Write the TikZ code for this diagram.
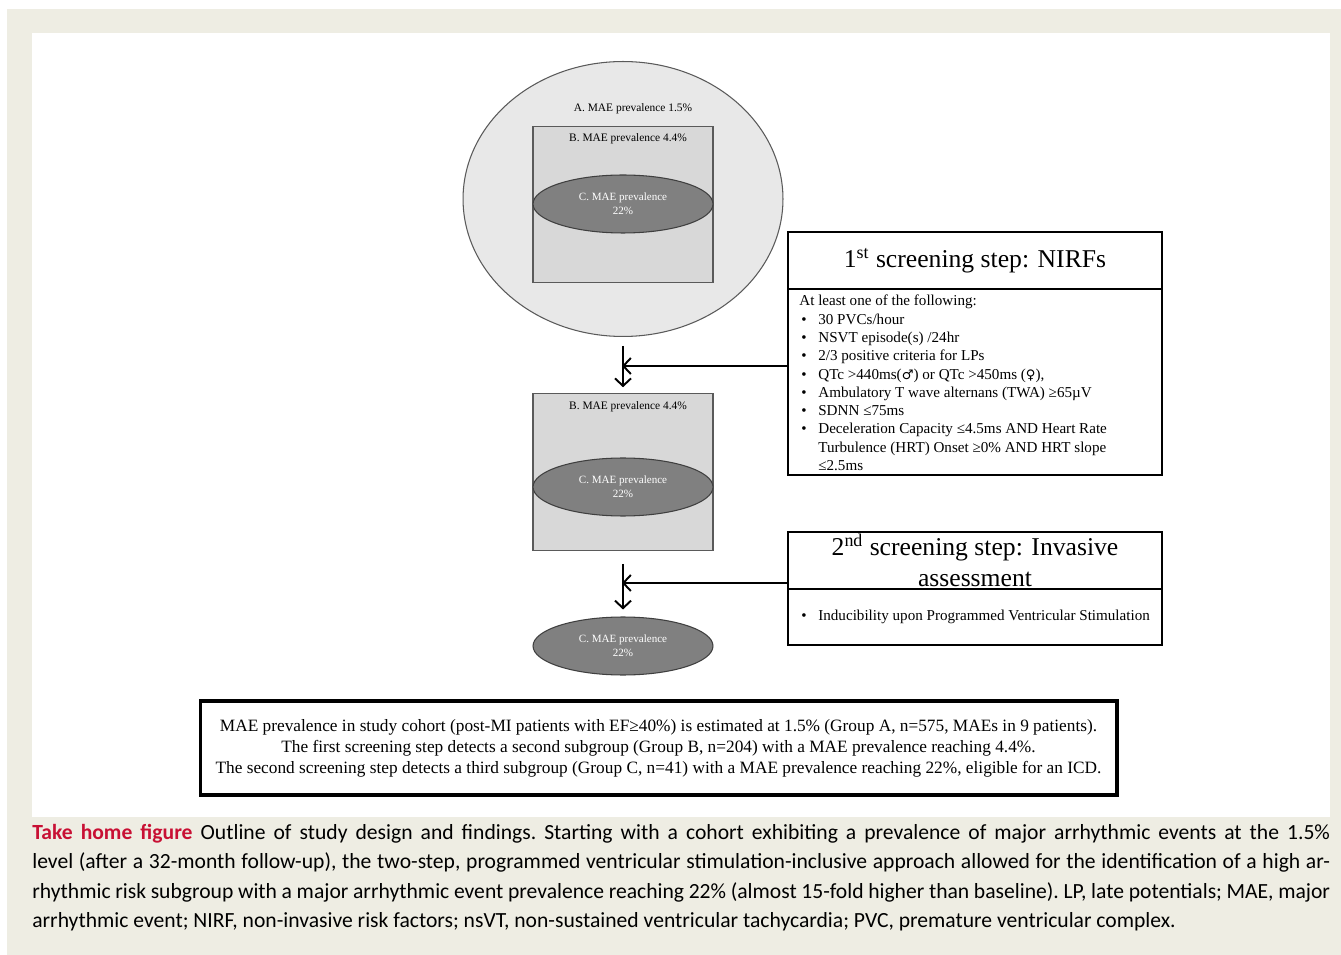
\documentclass[tikz,border=0pt]{standalone}
\usepackage{fontspec}
\setmainfont{Liberation Serif}
\newfontfamily\capfont{Carlito}
\newfontfamily\symfont{DejaVu Sans}
\usepackage{xcolor}
\usetikzlibrary{arrows.meta, positioning, shapes.geometric}

\definecolor{pagebeige}{RGB}{238,237,227}
\definecolor{cohortgray}{RGB}{232,232,232}
\definecolor{subgray}{RGB}{216,216,216}
\definecolor{highgray}{RGB}{128,128,128}
\definecolor{edgegray}{RGB}{90,90,90}
\definecolor{homered}{RGB}{200,16,52}

\newcommand{\bul}{\makebox[3.8mm][l]{\hspace{0.4mm}\textbullet}}
\newcommand{\ind}{\hspace*{3.8mm}}
\newcommand{\sexsym}[1]{{\symfont\fontsize{7.5}{9}\selectfont #1}}

\begin{document}
\begin{tikzpicture}[x=0.02cm, y=-0.02cm, >={Straight Barb[length=1.5mm,width=3.2mm]},
  lbl/.style={inner sep=0pt, font=\fontsize{6.5}{7.5}\selectfont},
  frame/.style={draw, line width=1.6pt, inner sep=0pt, outer sep=0pt, minimum width=7.48cm},
  groupB/.style={draw=edgegray, line width=0.6pt, fill=subgray, minimum width=3.6cm, minimum height=3.13cm, inner sep=0pt},
  groupC/.style={ellipse, draw=edgegray!70!black, line width=0.6pt, fill=highgray, minimum width=3.6cm, minimum height=1.16cm, inner sep=0pt, text=white, align=center, font=\fontsize{6.3}{8}\selectfont},
  link/.style={->, line width=1.1pt}]
  \useasboundingbox (0,0) rectangle (1341,955);
  % page and panel
  \fill[pagebeige] (7,9) rectangle (1341,955);
  \fill[white] (32,33) rectangle (1330,817);

  % cohort A with nested groups
  \node[ellipse, draw=edgegray, line width=0.6pt, fill=cohortgray, minimum width=6.4cm, minimum height=5.5cm, inner sep=0pt] (cohort) at (623,199) {};
  \node[lbl] (labelA) at (633,109) {A. MAE prevalence 1.5\%};
  \foreach \name/\y in {bTop/204.5, bMid/472} {
    \node[groupB] (\name) at (623,\y) {};
  }
  \node[lbl] (labelBtop) at (628,139) {B. MAE prevalence 4.4\%};
  \node[lbl] (labelBmid) at (628,407) {B. MAE prevalence 4.4\%};
  \foreach \name/\y in {cTop/204, cMid/487, cLow/646} {
    \node[groupC] (\name) at (623,\y) {C. MAE prevalence\\22\%};
  }

  % 1st screening step
  \node[frame, minimum height=1.14cm, font=\fontsize{14.6}{17.6}\selectfont] (nirfHead) at (975,260.5) {1\textsuperscript{st} screening step: NIRFs};
  \node[frame, minimum height=3.72cm, below=0pt of nirfHead] (nirfBody) {};
  \node[anchor=north west, inner sep=0pt, align=left, font=\fontsize{8.6}{10.4}\selectfont] (nirfList) at (799,295) {%
    At least one of the following:\\
    \bul 30 PVCs/hour\\
    \bul NSVT episode(s) /24hr\\
    \bul 2/3 positive criteria for LPs\\
    \bul QTc >440ms(\sexsym{♂}) or QTc >450ms (\sexsym{♀}),\\
    \bul Ambulatory T wave alternans (TWA) ≥65µV\\
    \bul SDNN ≤75ms\\
    \bul Deceleration Capacity ≤4.5ms AND Heart Rate\\
    \ind Turbulence (HRT) Onset ≥0\% AND HRT slope\\
    \ind ≤2.5ms};

  % 2nd screening step
  \node[frame, minimum height=1.14cm, align=center, font=\fontsize{14.6}{17.6}\selectfont] (invHead) at (975,560.5) {2\textsuperscript{nd} screening step: Invasive\\assessment};
  \node[frame, minimum height=1.12cm, below=0pt of invHead] (invBody) {};
  \node[anchor=west, inner sep=0pt, font=\fontsize{8.6}{10.4}\selectfont] (invList) at (799,617) {\bul Inducibility upon Programmed Ventricular Stimulation};

  % screening arrows
  \coordinate (join1) at (622,366);
  \coordinate (join2) at (622,583);
  \draw[link] ([shift={(0,9)}]cohort.south) -- ([shift={(0,-6)}]bMid.north);
  \draw[link] (nirfBody.west |- join1) -- (join1);
  \draw[link] ([shift={(0,13)}]bMid.south) -- ([shift={(0,-7)}]cLow.north);
  \draw[link] (invBody.west |- join2) -- (join2);

  % summary
  \node[draw, line width=1.8pt, minimum width=18.34cm, minimum height=1.88cm, align=center, font=\fontsize{9.85}{12}\selectfont] (summary) at (658.5,748) {MAE prevalence in study cohort (post-MI patients with EF≥40\%) is estimated at 1.5\% (Group A, n=575, MAEs in 9 patients).\\The first screening step detects a second subgroup (Group B, n=204) with a MAE prevalence reaching 4.4\%.\\The second screening step detects a third subgroup (Group C, n=41) with a MAE prevalence reaching 22\%, eligible for an ICD.};

  % caption
  \node[anchor=north west, inner sep=0pt, text width=25.96cm, align=justify, font=\capfont\fontsize{12.3}{16.7}\selectfont] (caption) at (32,824) {\frenchspacing\hyphenpenalty=10000 \textcolor{homered}{\textbf{Take home figure}} Outline of study design and findings. Starting with a cohort exhibiting a prevalence of major arrhythmic events at the 1.5\% \linebreak level (after a 32-month follow-up), the two-step, programmed ventricular stimulation-inclusive approach allowed for the identification of a high ar-\linebreak rhythmic risk subgroup with a major arrhythmic event prevalence reaching 22\% (almost 15-fold higher than baseline). LP, late potentials; MAE, major \linebreak arrhythmic event; NIRF, non-invasive risk factors; nsVT, non-sustained ventricular tachycardia; PVC, premature ventricular complex.};
\end{tikzpicture}
\end{document}
